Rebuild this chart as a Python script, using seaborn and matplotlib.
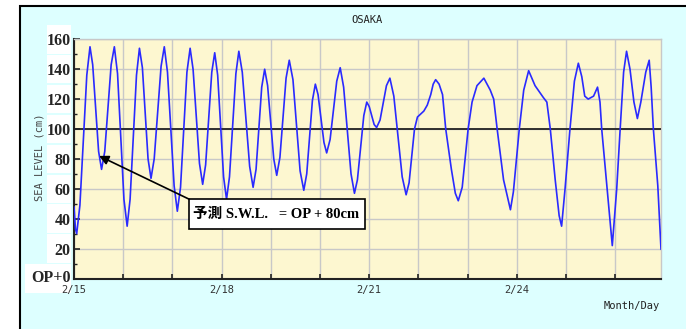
import matplotlib
matplotlib.use("Agg")
import matplotlib.pyplot as plt
import matplotlib.transforms as mtransforms
from matplotlib.patches import Rectangle
import seaborn as sns
import pandas as pd

# predicted tide at Osaka, days since 2/15 00:00 vs level (cm above OP)
days = [0.00, 0.03, 0.055, 0.12, 0.26, 0.325, 0.38, 0.50, 0.56, 0.625,
        0.755, 0.82, 0.885, 1.015, 1.08, 1.14, 1.27, 1.33, 1.39, 1.505,
        1.565, 1.63, 1.77, 1.835, 1.90, 2.035, 2.10, 2.165, 2.295, 2.36,
        2.42, 2.55, 2.615, 2.675, 2.80, 2.86, 2.92, 3.04, 3.10, 3.16,
        3.29, 3.35, 3.42, 3.57, 3.64, 3.70, 3.815, 3.875, 3.935, 4.06,
        4.12, 4.185, 4.31, 4.375, 4.45, 4.595, 4.67, 4.73, 4.845, 4.905,
        4.96, 5.08, 5.135, 5.205, 5.34, 5.41, 5.48, 5.63, 5.70, 5.76,
        5.89, 5.95, 6.00, 6.10, 6.15, 6.22, 6.35, 6.42, 6.50, 6.67,
        6.75, 6.81, 6.92, 6.98, 7.11, 7.18, 7.25, 7.30, 7.35, 7.42,
        7.49, 7.555, 7.67, 7.75, 7.81, 7.89, 8.01, 8.09, 8.19, 8.33,
        8.46, 8.53, 8.60, 8.73, 8.87, 8.93, 9.05, 9.14, 9.24, 9.37,
        9.54, 9.61, 9.68, 9.78, 9.86, 9.91, 9.98, 10.08, 10.17, 10.25,
        10.32, 10.38, 10.45, 10.56, 10.64, 10.69, 10.725, 10.83, 10.94, 11.03,
        11.10, 11.17, 11.23, 11.30, 11.38, 11.45, 11.52, 11.62, 11.69, 11.73,
        11.775, 11.865, 11.93]
level = [48, 33, 30, 49, 136, 155, 143, 85, 73, 85,
         143, 155, 137, 53, 35, 53, 136, 154, 141, 80,
         67, 80, 142, 155, 138, 62, 45, 61, 138, 154,
         140, 77, 63, 76, 138, 151, 136, 68, 53, 68,
         137, 152, 138, 75, 61, 73, 128, 140, 129, 80,
         69, 81, 134, 146, 133, 72, 59, 70, 119, 130,
         123, 91, 84, 93, 132, 141, 128, 70, 57, 66,
         109, 118, 115, 103, 101, 106, 129, 134, 122, 68,
         56, 64, 100, 108, 112, 116, 123, 130, 133, 130,
         123, 100, 73, 57, 52, 61, 100, 118, 129, 134,
         126, 120, 100, 66, 46, 58, 100, 126, 139, 129,
         121, 118, 100, 66, 42, 35, 60, 100, 132, 144,
         135, 122, 120, 122, 128, 118, 100, 62, 22, 60,
         100, 138, 152, 140, 118, 107, 118, 138, 146, 128,
         100, 62, 19.5]

date_ticks = [0, 3, 6, 9]
date_labels = ["2/15", "2/18", "2/21", "2/24"]
level_ticks = [0, 20, 40, 60, 80, 100, 120, 140, 160]
level_labels = ["OP+0", "20", "40", "60", "80", "100", "120", "140", "160"]
swl_text = "予測 S.W.L.   = OP + 80cm"

df = pd.DataFrame({"day": days, "level": level})

sns.set_style("ticks")
plt.rcParams['font.family'] = ['DejaVu Sans Mono']

W, H = 686, 329
fig = plt.figure(figsize=(W / 100, H / 100), dpi=100)
fig.patch.set_facecolor('white')
fig.add_artist(Rectangle((20 / W, -0.1), 1.0, (H - 6) / H + 0.1, transform=fig.transFigure,
                         facecolor='#DDFFFF', edgecolor='black', lw=1.5, zorder=-3))

ax = fig.add_axes([74 / W, (H - 278.5) / H, (661 - 74) / W, (278.5 - 39.3) / H])
ax.set_facecolor('#FDF7D0')

sns.lineplot(data=df, x="day", y="level", ax=ax, color='#2a2aff', lw=1.2, zorder=4, sort=False)
ax.axhline(100, color='#222222', lw=1.3, zorder=3)

ax.set_xlim(0, 11.93)
ax.set_ylim(0, 160)
ax.set_xticks(date_ticks)
ax.set_xticklabels(date_labels)
ax.set_xticks(range(12), minor=True)
ax.set_yticks(level_ticks)
ax.set_yticklabels(level_labels)
ax.set_yticks(range(0, 161, 10), minor=True)
ax.grid(True, which='major', color='#C8C8C8', lw=1, zorder=1)
ax.grid(True, which='minor', axis='x', color='#C8C8C8', lw=1, zorder=1)
ax.set_axisbelow(True)
ax.set_xlabel("")
ax.set_ylabel("")

ax.tick_params(axis='x', which='both', direction='in', length=3.6, width=1.2, color='#222222',
               labelsize=7.5, labelcolor='#333333', pad=5)
ax.tick_params(axis='y', which='major', direction='in', length=4.3, width=1.2, color='#222222', pad=2.5)
ax.tick_params(axis='y', which='minor', direction='in', length=2.2, width=1.0, color='#222222')
for lab in ax.get_yticklabels():
    lab.set_fontfamily('Liberation Serif')
    lab.set_fontweight('bold')
    lab.set_fontsize(11.5)
# the OP+0 label sits a little above the axis line
op_lab = ax.get_yticklabels()[0]
op_lab.set_transform(op_lab.get_transform() + mtransforms.ScaledTranslation(0, 3 / 100, fig.dpi_scale_trans))

for side in ['left', 'bottom']:
    ax.spines[side].set_color('#222222')
    ax.spines[side].set_linewidth(1.5)
for side in ['top', 'right']:
    ax.spines[side].set_color('#C8C8C8')
    ax.spines[side].set_linewidth(1)

# white patches behind the level labels
blend = mtransforms.blended_transform_factory(fig.transFigure, ax.transData)
for v in level_ticks:
    x0 = 25 / W if v == 0 else 47 / W
    fig.add_artist(Rectangle((x0, v - 9.5), 71 / W - x0, 19, transform=blend,
                             facecolor='white', edgecolor='none', zorder=-1))

fig.text(367.5 / W, 1 - 20 / H, "OSAKA", ha='center', va='center', fontsize=7.5, color='#222222')
fig.text(660 / W, 1 - 305.7 / H, "Month/Day", ha='right', va='center', fontsize=7.5, color='#222222')
fig.text(40 / W, 1 - 157 / H, "SEA LEVEL (cm)", rotation=90, ha='center', va='center',
         fontsize=7.5, color='#444444')

# S.W.L. note with arrow
ax.add_patch(Rectangle((2.343, 32.9), 5.915 - 2.343, 53 - 32.9, facecolor='white',
                       edgecolor='black', lw=1.2, zorder=6))
ax.text(2.413, 43, swl_text, ha='left', va='center', fontsize=10.5, fontweight='bold',
        family=['Liberation Serif', 'Noto Sans CJK JP'], color='black', zorder=7)
ax.annotate("", xy=(0.51, 82), xytext=(2.343, 53),
            arrowprops=dict(arrowstyle='-|>', color='black', lw=1.2, mutation_scale=14,
                            shrinkA=0, shrinkB=0), zorder=6)

fig.savefig("out.png", dpi=100)
